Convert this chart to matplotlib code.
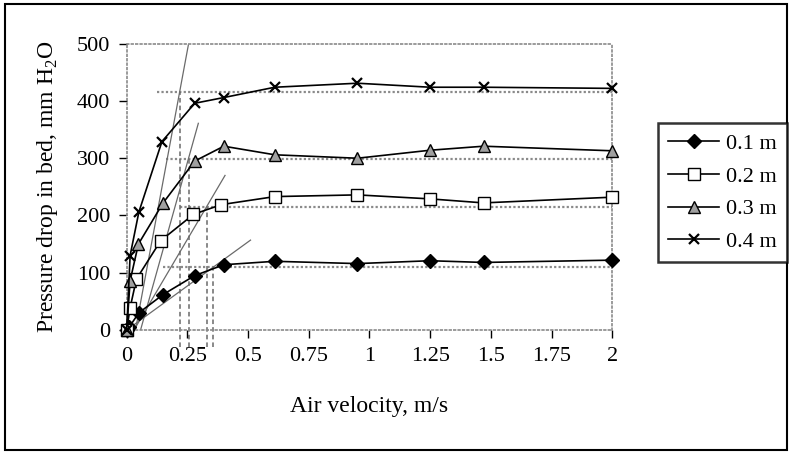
import matplotlib.pyplot as plt
from matplotlib.patches import Rectangle

plt.rcParams['font.family'] = ['Liberation Serif', 'DejaVu Serif']
plt.rcParams['mathtext.fontset'] = 'custom'
plt.rcParams['mathtext.rm'] = 'Liberation Serif'

# bed heights and measured pressure drops
labels = ['0.1 m', '0.2 m', '0.3 m', '0.4 m']

x_01 = [0, 0.01, 0.05, 0.15, 0.28, 0.40, 0.61, 0.95, 1.25, 1.47, 2.0]
y_01 = [0, 5, 30, 62, 95, 114, 120, 116, 121, 118, 122]

x_02 = [0, 0.014, 0.04, 0.14, 0.275, 0.39, 0.61, 0.95, 1.25, 1.47, 2.0]
y_02 = [0, 39, 89, 156, 202, 219, 233, 236, 229, 222, 232]

x_03 = [0, 0.014, 0.048, 0.15, 0.28, 0.40, 0.61, 0.95, 1.25, 1.47, 2.0]
y_03 = [0, 86, 150, 222, 295, 321, 306, 300, 314, 321, 313]

x_04 = [0, 0.014, 0.05, 0.145, 0.28, 0.40, 0.61, 0.95, 1.25, 1.47, 2.0]
y_04 = [0, 130, 206, 329, 396, 406, 424, 431, 424, 424, 422]

# plateau levels, tangent lines and minimum fluidisation velocities
plateau_y = [110, 215, 298, 415]
plateau_x0 = [0.15, 0.22, 0.16, 0.125]
tan_x0 = [0.0, 0.03, 0.057, 0.036]
tan_x1 = [0.51, 0.405, 0.295, 0.254]
tan_y1 = [157, 270, 361, 498]
umf = [0.355, 0.33, 0.255, 0.22]

xs = [x_01, x_02, x_03, x_04]
ys = [y_01, y_02, y_03, y_04]
markers = ['D', 's', '^', 'x']
msizes = [7, 8, 9, 7]
faces = ['black', 'white', '#a0a0a0', 'black']

fig = plt.figure(figsize=(7.92, 4.53), dpi=100)
ax = fig.add_axes([0.160, 0.2715, 0.613, 0.632])

for i in range(4):
    ax.plot([plateau_x0[i], 2.0], [plateau_y[i], plateau_y[i]], color='#8a8a8a',
            lw=1.6, ls=(0, (1, 1)), zorder=1)
    ax.plot([tan_x0[i], tan_x1[i]], [0, tan_y1[i]], color='#6a6a6a', lw=0.9, zorder=1)
    ax.plot([umf[i], umf[i]], [-30, plateau_y[i]], color='#6a6a6a', lw=1.1,
            ls=(0, (3, 2)), clip_on=False, zorder=1)

for i in range(4):
    ax.plot(xs[i], ys[i], color='black', lw=1.2, marker=markers[i], ms=msizes[i],
            mfc=faces[i], mec='black', mew=1.0 if i < 3 else 1.6, label=labels[i],
            clip_on=False, zorder=3)

ax.set_xlim(0, 2)
ax.set_ylim(0, 500)
ax.set_xticks([0, 0.25, 0.5, 0.75, 1, 1.25, 1.5, 1.75, 2])
ax.set_xticklabels(['0', '0.25', '0.5', '0.75', '1', '1.25', '1.5', '1.75', '2'])
ax.set_yticks([0, 100, 200, 300, 400, 500])
ax.tick_params(labelsize=16, direction='out', length=6, width=1, color='black', pad=6)
for s in ax.spines.values():
    s.set_color('#8a8a8a')
    s.set_linestyle(':')
    s.set_linewidth(1.2)

ax.set_xlabel('Air velocity, m/s', fontsize=17, labelpad=22)
ax.set_ylabel(r'Pressure drop in bed, mm H$_2$O', fontsize=17, labelpad=12)

leg = fig.legend(loc='upper left', bbox_to_anchor=(0.831, 0.728), fontsize=16,
                 frameon=True, fancybox=False, edgecolor='black', handlelength=2.3,
                 handletextpad=0.3, labelspacing=0.55, borderpad=0.45, borderaxespad=0)
leg.get_frame().set_linewidth(1.8)

fig.patches.append(Rectangle((0.006, 0.006), 0.988, 0.986, transform=fig.transFigure,
                             fill=False, edgecolor='black', lw=1.5))

fig.savefig('out.png', dpi=100)
